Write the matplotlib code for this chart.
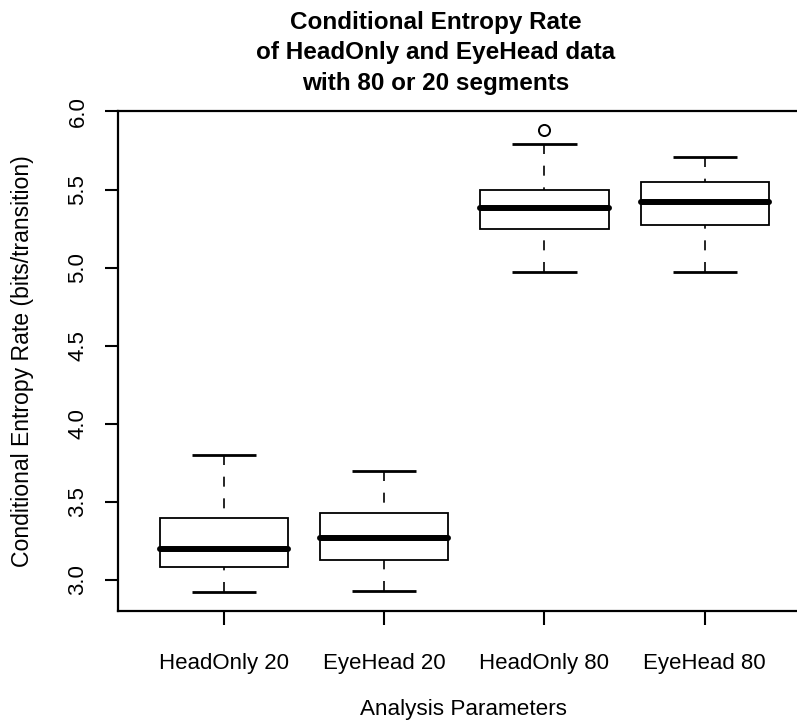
import matplotlib
matplotlib.use("Agg")
import matplotlib.pyplot as plt
from matplotlib.patches import Rectangle

plt.rcParams['font.family'] = ['Liberation Sans', 'DejaVu Sans']

# Five-number summaries per analysis setting
categories = ["HeadOnly 20", "EyeHead 20", "HeadOnly 80", "EyeHead 80"]
whisker_low = [2.92, 2.93, 4.97, 4.97]
q1 = [3.08, 3.13, 5.25, 5.27]
median = [3.20, 3.27, 5.38, 5.42]
q3 = [3.40, 3.43, 5.50, 5.55]
whisker_high = [3.80, 3.70, 5.79, 5.71]
outliers = [[], [], [5.88], []]

yticks = [3.0, 3.5, 4.0, 4.5, 5.0, 5.5, 6.0]

W, H = 797, 723
fig = plt.figure(figsize=(W / 100, H / 100), dpi=100)
ax = fig.add_axes([118.3 / W, 1 - 611 / H, (800 - 118.3) / W, 500 / H])

box_w = 0.8
cap_w = 0.4
for i, cat in enumerate(categories):
    x = i + 1
    # whiskers drawn from the staple toward the hinge
    ax.plot([x, x], [whisker_high[i], q3[i]], color='black', lw=1.2,
            ls=(0, (6, 7)), zorder=2)
    ax.plot([x, x], [whisker_low[i], q1[i]], color='black', lw=1.2,
            ls=(0, (6, 7)), zorder=2)
    # staples
    ax.plot([x - cap_w / 2, x + cap_w / 2], [whisker_high[i]] * 2,
            color='black', lw=2.0, solid_capstyle='butt', zorder=3)
    ax.plot([x - cap_w / 2, x + cap_w / 2], [whisker_low[i]] * 2,
            color='black', lw=2.0, solid_capstyle='butt', zorder=3)
    # box
    ax.add_patch(Rectangle((x - box_w / 2, q1[i]), box_w, q3[i] - q1[i],
                           facecolor='white', edgecolor='black', lw=1.3,
                           zorder=3))
    # median
    ax.plot([x - box_w / 2, x + box_w / 2], [median[i]] * 2, color='black',
            lw=4.3, solid_capstyle='round', zorder=4)
    # outliers
    if outliers[i]:
        ax.plot([x] * len(outliers[i]), outliers[i], 'o', mfc='none',
                mec='black', ms=8, mew=1.4, zorder=4)

ax.set_xlim(1 - (224.3 - 118.3) / 160, 4 + (800 - 704.6) / 160)
ax.set_ylim(2.8015, 6.0026)

ax.set_xticks(range(1, len(categories) + 1))
ax.set_xticklabels(categories, fontsize=16)
ax.set_yticks(yticks)
ax.set_yticklabels([f"{v:.1f}" for v in yticks], fontsize=16, rotation=90,
                   va='center')
ax.tick_params(axis='x', length=10, width=1.5, pad=20)
ax.tick_params(axis='y', length=9.5, width=1.5, pad=12)

for side in ('left', 'top', 'bottom'):
    ax.spines[side].set_linewidth(1.6)
ax.spines['right'].set_visible(False)

ax.set_xlabel("Analysis Parameters", fontsize=16.2, va='center')
ax.xaxis.set_label_coords((463 - 118.3) / 681.7, -(709 - 611) / 500)
ax.set_ylabel("Conditional Entropy Rate (bits/transition)", fontsize=16.6,
              va='center')
ax.yaxis.set_label_coords(-(118.3 - 23) / 681.7, (611 - 361) / 500)

fig.text(436 / W, 1 - 53 / H,
         "Conditional Entropy Rate\nof HeadOnly and EyeHead data\nwith 80 or 20 segments",
         ha='center', va='center', fontsize=17.5, fontweight='bold',
         linespacing=1.4)

fig.savefig("out.png", dpi=100)
